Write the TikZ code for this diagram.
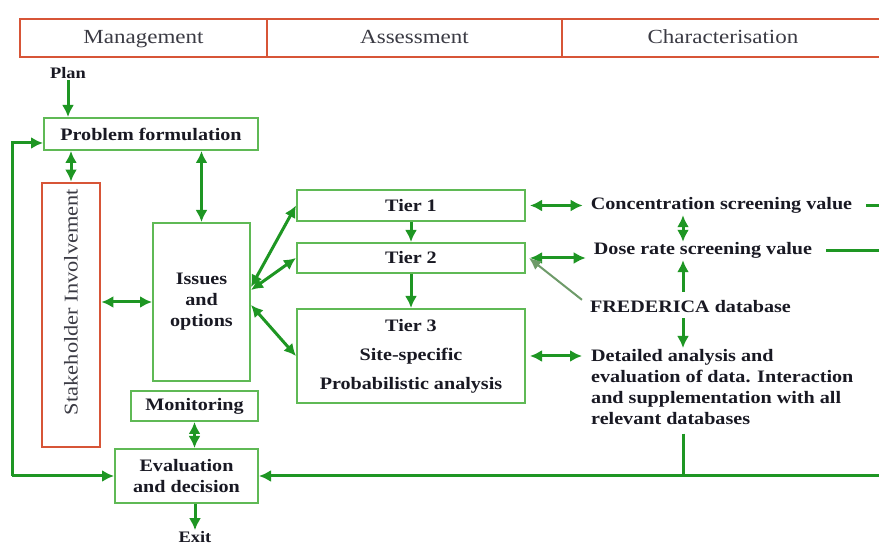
\documentclass[tikz,border=0pt]{standalone}
\usepackage{fontspec}
\setmainfont{Liberation Serif}[FakeStretch=1.15]
\usetikzlibrary{arrows.meta}
\definecolor{boxg}{RGB}{95,185,85}
\definecolor{arrg}{RGB}{30,150,35}
\definecolor{redo}{RGB}{215,85,55}
\definecolor{fredg}{RGB}{110,155,105}
\definecolor{ink}{RGB}{25,25,35}
\begin{document}
\begin{tikzpicture}[x=1pt,y=-1pt,
  gbox/.style={draw=boxg, line width=2pt, fill=white, text=ink, font=\bfseries\fontsize{17.5}{21}\selectfont, align=center, inner sep=0pt},
  hcell/.style={draw=redo, line width=2.8pt, text=ink!85, font=\fontsize{20}{24}\selectfont, minimum height=38pt, inner sep=0pt, text height=14pt, text depth=3pt},
  lbl/.style={text=ink, font=\bfseries\fontsize{17.5}{21}\selectfont, inner xsep=8pt, inner ysep=1pt, text height=12pt, text depth=4pt},
  small/.style={text=ink, font=\bfseries\fontsize{16}{19}\selectfont, inner sep=1pt},
  arr/.style={draw=arrg, line width=3pt, -{Latex[length=12pt,width=12pt]}},
  darr/.style={draw=arrg, line width=3pt, {Latex[length=12pt,width=12pt]}-{Latex[length=12pt,width=12pt]}},
  fredarr/.style={draw=fredg, line width=2pt, -{Latex[length=12pt,width=11pt]}},
  plainline/.style={draw=arrg, line width=3pt},
]
\useasboundingbox (0,0) rectangle (879,545);
\clip (0,0) rectangle (879,545);
\fill[white] (0,0) rectangle (879,545);

% header
\node[hcell, minimum width=247pt] (hm) at (143.5,38) {Management};
\node[hcell, minimum width=295pt] (ha) at (414.5,38) {Assessment};
\node[hcell, minimum width=322pt] (hc) at (723,38) {Characterisation};

% management column
\node[small] (plan) at (68,73) {Plan};
\node[gbox, minimum width=214pt, minimum height=32pt] (pf) at (151,134) {Problem formulation};
\node[draw=redo, line width=2.8pt, minimum width=58pt, minimum height=264pt, inner sep=0pt] (sh) at (71,315) {};
\node[rotate=90, text=ink!85, font=\fontsize{19.5}{23}\selectfont, inner sep=0pt] (shl) at (71,302) {Stakeholder Involvement};
\node[gbox, minimum width=97pt, minimum height=158pt] (io) at (201.5,302) {Issues\\and\\options};
\node[gbox, minimum width=127pt, minimum height=30pt] (mon) at (194.5,406) {Monitoring};
\node[gbox, minimum width=143pt, minimum height=54pt] (ev) at (186.5,476) {Evaluation\\and decision};
\node[small] (exit) at (195,537) {Exit};

% assessment column
\node[gbox, minimum width=228pt, minimum height=31pt] (t1) at (411,205.5) {Tier 1};
\node[gbox, minimum width=228pt, minimum height=30pt] (t2) at (411,258) {Tier 2};
\node[gbox, minimum width=228pt, minimum height=94pt] (t3) at (411,356) {Tier 3\\[8pt]Site-specific\\[8pt]Probabilistic analysis};

% characterisation column
\node[lbl] (conc) at (721.5,206) {Concentration screening value};
\node[lbl] (dose) at (703,251) {Dose rate screening value};
\node[lbl] (fred) at (690.5,309) {FREDERICA database};
\node[text=ink, font=\bfseries\fontsize{17.5}{21}\selectfont, align=left, anchor=north west, inner xsep=9pt, inner ysep=1pt] (det) at (582,348)
  {Detailed analysis and\\evaluation of data. Interaction\\and supplementation with all\\relevant databases};

\coordinate (col) at (683,0);
\coordinate (ce) at (882,206);
\coordinate (re) at (882,476);
\coordinate (lb) at (12,476);
\coordinate (lt) at (12,143);

% connectors
\draw[arr] (plan.south) -- (plan.south |- pf.north);
\draw[darr] (sh.north) -- (sh.north |- pf.south);
\draw[darr] (io.north) -- (io.north |- pf.south);
\draw[darr] (sh.east |- io.west) -- (io.west);
\draw[darr] ([yshift=15pt]io.east) -- (t1.west);
\draw[darr] ([yshift=12pt]io.east) -- (t2.west);
\draw[darr] ([yshift=-3pt]io.east) -- (t3.west);
\draw[arr] (t1.south) -- (t2.north);
\draw[arr] (t2.south) -- (t3.north);
\draw[darr, shorten <=4pt] (t1.east) -- (t1.east -| conc.west);
\draw[darr, shorten <=4pt] (t2.east) -- (t2.east -| dose.west);
\draw[darr, shorten <=4pt] (t3.east) -- (t3.east -| det.west);
\draw[darr] (conc.south -| col) -- (dose.north -| col);
\draw[arr, shorten <=8pt] (fred.north -| col) -- (dose.south -| col);
\draw[arr] (fred.south -| col) -- (det.north -| col);
\draw[fredarr] (fred.north west) -- ([xshift=3pt]t2.east);
\draw[plainline, shorten <=6pt] (conc.east) -- (conc.east -| ce);
\draw[plainline, shorten <=6pt] (dose.east) -- (dose.east -| ce);
\draw[plainline, shorten <=8pt] (det.south -| col) -- (col |- ev.east);
\draw[arr] (re) -- (ev.east);
\draw[arr] (lb) -- (ev.west);
\draw[arr] (lb) -- (lt) -- (lt -| pf.west);
\draw[darr] (mon.south) -- (mon.south |- ev.north);
\draw[arr] (ev.south -| exit) -- (exit.north);
\end{tikzpicture}
\end{document}
